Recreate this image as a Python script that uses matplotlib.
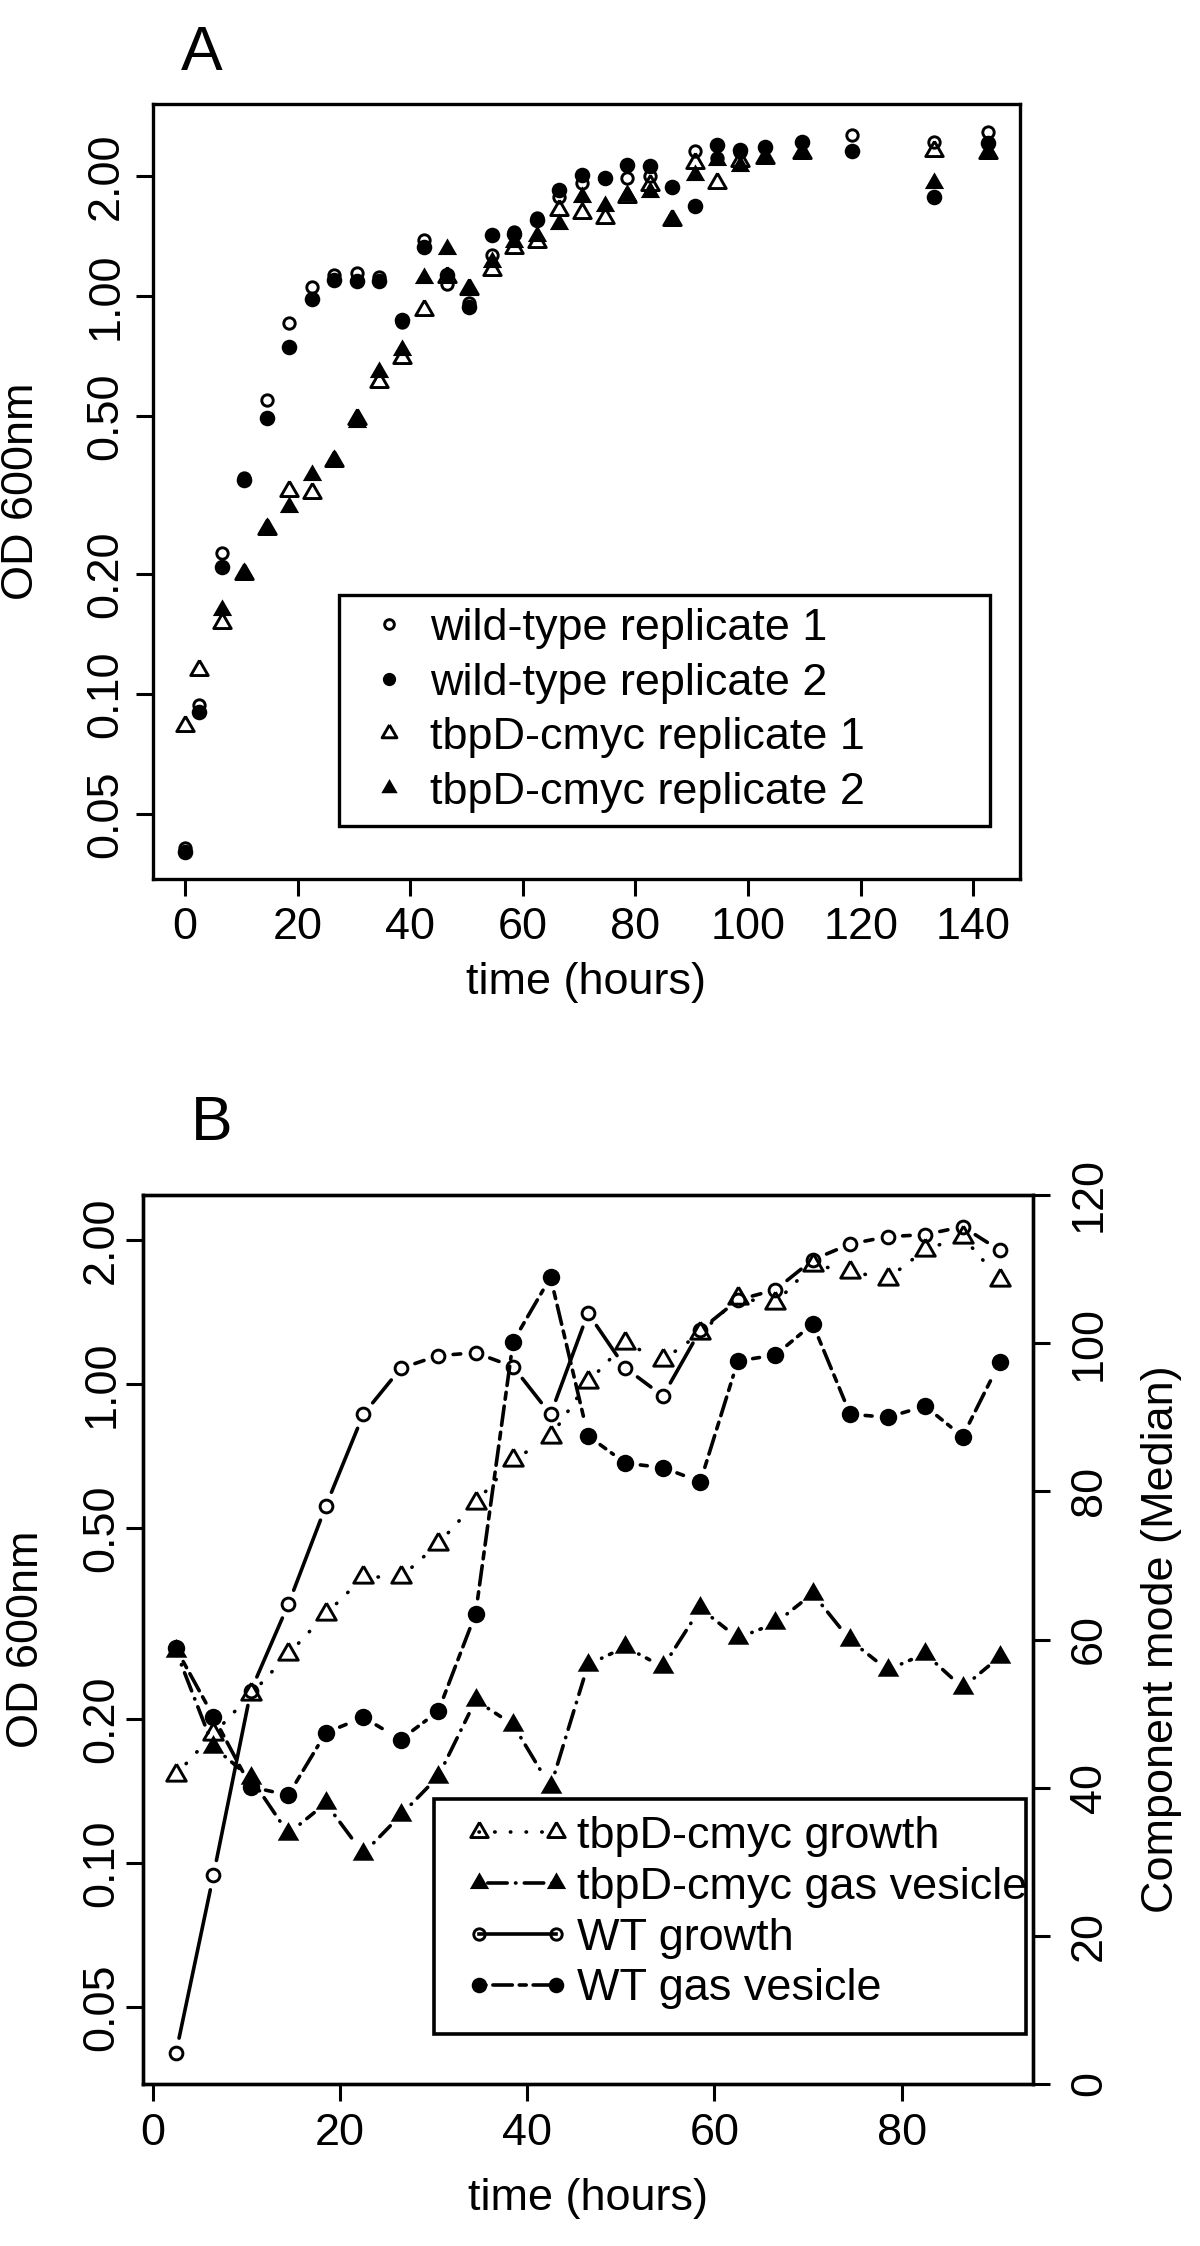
import numpy as np
import matplotlib.pyplot as plt
from matplotlib.lines import Line2D
from matplotlib.patches import Rectangle
from matplotlib.legend_handler import HandlerLine2D
from matplotlib.ticker import NullLocator

plt.rcParams['font.family'] = ['Liberation Sans', 'DejaVu Sans']
plt.rcParams['lines.scale_dashes'] = False

FS = 32.4
nan = np.nan

# panel A: growth curves, four replicates (OD 600nm)
timeA = [0, 2.5, 6.5, 10.5, 14.5, 18.5, 22.5, 26.5, 30.5, 34.5, 38.5, 42.5, 46.5,
         50.5, 54.5, 58.5, 62.5, 66.5, 70.5, 74.5, 78.5, 82.5, 86.5, 90.5, 94.5,
         98.5, 103, 109.5, 118.5, 133, 142.6]
wt_rep1 = [0.041, 0.094, 0.226, 0.35, 0.548, 0.855, 1.056, 1.13, 1.146, 1.12, 0.86,
           1.384, 1.07, 0.96, 1.27, 1.45, 1.57, 1.78, 1.92, 1.98, 1.98, 2.00, 1.88,
           2.31, 2.22, 2.30, 2.37, 2.44, 2.54, 2.44, 2.59]
wt_rep2 = [0.040, 0.090, 0.209, 0.345, 0.493, 0.746, 0.982, 1.10, 1.094, 1.09, 0.87,
           1.327, 1.13, 0.941, 1.425, 1.43, 1.55, 1.85, 2.02, 1.98, 2.14, 2.12, 1.88,
           1.68, 2.40, 2.33, 2.37, 2.44, 2.31, 1.78, 2.42]
tbpd_rep1 = [0.083, 0.115, 0.151, 0.20, 0.26, 0.323, 0.320, 0.385, 0.49, 0.61, 0.698,
             0.923, 1.12, 1.04, 1.164, 1.32, 1.37, 1.65, 1.62, 1.57, 1.78, 1.90, 1.55,
             2.16, 1.92, 2.18, 2.22, 2.29, nan, 2.31, 2.29]
tbpd_rep2 = [nan, nan, 0.163, 0.201, 0.262, 0.296, 0.356, 0.388, 0.484, 0.646, 0.733,
             1.109, 1.31, 1.037, 1.22, 1.37, 1.42, 1.52, 1.78, 1.68, 1.80, 1.83, 1.55,
             2.02, 2.20, 2.12, 2.22, 2.29, nan, 1.92, 2.29]
labelsA = ['wild-type replicate 1', 'wild-type replicate 2',
           'tbpD-cmyc replicate 1', 'tbpD-cmyc replicate 2']

# panel B: growth (left, OD) and gas vesicle component mode (right)
timeB = [2.5, 6.5, 10.5, 14.5, 18.5, 22.5, 26.5, 30.5, 34.5, 38.5, 42.5, 46.5,
         50.5, 54.5, 58.5, 62.5, 66.5, 70.5, 74.5, 78.5, 82.5, 86.5, 90.5]
tbpd_growth = [0.153, 0.186, 0.225, 0.273, 0.331, 0.395, 0.395, 0.464, 0.565, 0.693,
               0.776, 1.01, 1.216, 1.122, 1.276, 1.51, 1.475, 1.774, 1.716, 1.66,
               1.906, 2.03, 1.65]
wt_growth = [0.0402, 0.0944, 0.229, 0.347, 0.556, 0.864, 1.078, 1.146, 1.162, 1.087,
             0.864, 1.406, 1.08, 0.944, 1.296, 1.498, 1.572, 1.816, 1.96, 2.03, 2.05,
             2.13, 1.90]
tbpd_gv = [58.5, 45.5, 41.3, 33.8, 37.9, 31.1, 36.3, 41.5, 51.8, 48.5, 40.1, 56.6,
           59.0, 56.3, 64.2, 60.2, 62.2, 66.2, 59.9, 55.9, 58.1, 53.5, 57.7]
wt_gv = [58.8, 49.6, 40.1, 39.0, 47.4, 49.5, 46.5, 50.3, 63.5, 100.2, 108.9, 87.5,
         83.8, 83.2, 81.3, 97.6, 98.4, 102.6, 90.4, 90.0, 91.5, 87.4, 97.5]
labelsB = ['tbpD-cmyc growth', 'tbpD-cmyc gas vesicle', 'WT growth', 'WT gas vesicle']

od_ticks = [0.05, 0.1, 0.2, 0.5, 1, 2]
od_labels = ['0.05', '0.10', '0.20', '0.50', '1.00', '2.00']

# R-like equilateral triangle (pch 2 / 17)
TRI = [(0, 1.555), (1.347, -0.778), (-1.347, -0.778), (0, 1.555)]


def marks(scale):
    oc = dict(marker='o', mfc='none', mec='black', mew=2.1, ms=8.2 * scale)
    fc = dict(marker='o', mfc='black', mec='black', mew=0, ms=11.2 * scale)
    ot = dict(marker=TRI, mfc='none', mec='black', mew=2.1, ms=14.5 * scale)
    ft = dict(marker=TRI, mfc='black', mec='black', mew=0, ms=16 * scale)
    return oc, fc, ot, ft


LW = 2.6
dotted = (0, (0.3, 11))
dotdash = (0, (0.3, 6, 14, 6))
twodash = (0, (5, 5, 14, 5))


def style_axes(ax):
    for s in ax.spines.values():
        s.set_linewidth(2.4)
    ax.tick_params(length=12, width=2.2, labelsize=FS, direction='out')


def draw_type_b(ax, x, y, ls, gap=15):
    # R type="b": line segments stop short of the points
    pts = ax.transData.transform(np.column_stack([x, y]))
    inv = ax.transData.inverted()
    for p0, p1 in zip(pts[:-1], pts[1:]):
        d = p1 - p0
        L = np.hypot(d[0], d[1])
        if L <= 2 * gap:
            continue
        u = d / L
        seg = inv.transform(np.array([p0 + u * gap, p1 - u * gap]))
        ax.plot(seg[:, 0], seg[:, 1], color='black', lw=LW, linestyle=ls,
                dash_capstyle='round', solid_capstyle='round')


fig = plt.figure(figsize=(12, 22.46), dpi=100)

# ---------------- panel A ----------------
open_circ, fill_circ, open_tri, fill_tri = marks(1.0)
axA = fig.add_axes([153 / 1200, 1 - 879 / 2246, 867 / 1200, 775 / 2246])
axA.set_yscale('log')
axA.set_xlim(-5.7, 148.3)
axA.set_ylim(0.0343, 3.04)
axA.plot(timeA, wt_rep1, ls='none', **open_circ)
axA.plot(timeA, wt_rep2, ls='none', **fill_circ)
axA.plot(timeA, tbpd_rep1, ls='none', **open_tri)
axA.plot(timeA, tbpd_rep2, ls='none', **fill_tri)
style_axes(axA)
axA.set_xticks(range(0, 141, 20))
axA.set_yticks(od_ticks)
axA.set_yticklabels(od_labels, rotation=90, va='center')
axA.yaxis.set_minor_locator(NullLocator())
axA.tick_params(axis='x', pad=8)
axA.tick_params(axis='y', pad=7)
axA.set_xlabel('time (hours)', fontsize=FS, va='center')
axA.xaxis.set_label_coords(0.5, -0.134)
axA.set_ylabel('OD 600nm', fontsize=FS, va='center')
axA.yaxis.set_label_coords(-0.152, 0.5)

# legend symbols are drawn a little smaller than the plotted points
hA = [Line2D([], [], ls='none', **st) for st in marks(0.85)]
legA = axA.legend(hA, labelsA, loc='upper left', bbox_to_anchor=(0.2145, 0.0658, 0.751, 0.3007),
                  mode='expand', borderaxespad=0, fontsize=FS, fancybox=False,
                  edgecolor='black', framealpha=1, borderpad=0.29, handlelength=1.64,
                  handletextpad=0.1, labelspacing=0.30, numpoints=1)
legA.get_frame().set_linewidth(2.4)

fig.text(202 / 1200, 1 - 53 / 2246, 'A', ha='center', va='center', fontsize=45)

# ---------------- panel B ----------------
open_circ, fill_circ, open_tri, fill_tri = marks(1.12)
axB = fig.add_axes([143 / 1200, 1 - 2084 / 2246, 890 / 1200, 889 / 2246])
axB.set_yscale('log')
axB.set_xlim(-1.02, 94.02)
axB.set_ylim(0.0346, 2.48)
axB2 = axB.twinx()
axB2.set_ylim(0, 120)

draw_type_b(axB, timeB, tbpd_growth, dotted)
draw_type_b(axB, timeB, wt_growth, '-')
draw_type_b(axB2, timeB, tbpd_gv, dotdash)
draw_type_b(axB2, timeB, wt_gv, twodash)
axB.plot(timeB, tbpd_growth, ls='none', **open_tri)
axB.plot(timeB, wt_growth, ls='none', **open_circ)
axB2.plot(timeB, tbpd_gv, ls='none', **fill_tri)
axB2.plot(timeB, wt_gv, ls='none', **fill_circ)

style_axes(axB)
style_axes(axB2)
axB.set_xticks(range(0, 81, 20))
axB.set_yticks(od_ticks)
axB.set_yticklabels(od_labels, rotation=90, va='center')
axB.yaxis.set_minor_locator(NullLocator())
axB.tick_params(axis='x', pad=9)
axB.tick_params(axis='y', pad=3)
axB2.set_yticks(range(0, 121, 20))
axB2.set_yticklabels([str(v) for v in range(0, 121, 20)], rotation=90, va='center')
axB2.tick_params(axis='y', pad=14)
axB.set_xlabel('time (hours)', fontsize=FS, va='center')
axB.xaxis.set_label_coords(0.5, -0.129)
axB.set_ylabel('OD 600nm', fontsize=FS, va='center')
axB.yaxis.set_label_coords(-0.131, 0.5)
axB2.set_ylabel('Component mode (Median)', fontsize=FS, va='center', rotation=90)
axB2.yaxis.set_label_coords(1.144, 0.5)

# legend box of panel B has extra room under the last row, so draw it separately
boxB = (0.327, 0.0562, 0.665, 0.2643)
axB2.add_patch(Rectangle(boxB[:2], boxB[2], boxB[3], transform=axB2.transAxes,
                         facecolor='white', edgecolor='black', lw=2.6, zorder=4,
                         clip_on=False))
oc, fc, ot, ft = marks(1.0)
hB = [Line2D([], [], color='black', lw=LW, linestyle=dotted, dash_capstyle='round', **ot),
      Line2D([], [], color='black', lw=LW, linestyle=dotdash, dash_capstyle='round', **ft),
      Line2D([], [], color='black', lw=LW, linestyle='-', **oc),
      Line2D([], [], color='black', lw=LW, linestyle=twodash, dash_capstyle='round', **fc)]
legB = axB2.legend(hB, labelsB, loc='upper left', bbox_to_anchor=boxB,
                   mode='expand', borderaxespad=0, fontsize=FS, frameon=False,
                   borderpad=0.37, handlelength=2.96, handletextpad=-0.16,
                   labelspacing=0.22, numpoints=2,
                   handler_map={Line2D: HandlerLine2D(marker_pad=0.62, numpoints=2)})
legB.set_zorder(5)

fig.text(212 / 1200, 1 - 1123 / 2246, 'B', ha='center', va='center', fontsize=45)

fig.savefig('out.png', dpi=100)
